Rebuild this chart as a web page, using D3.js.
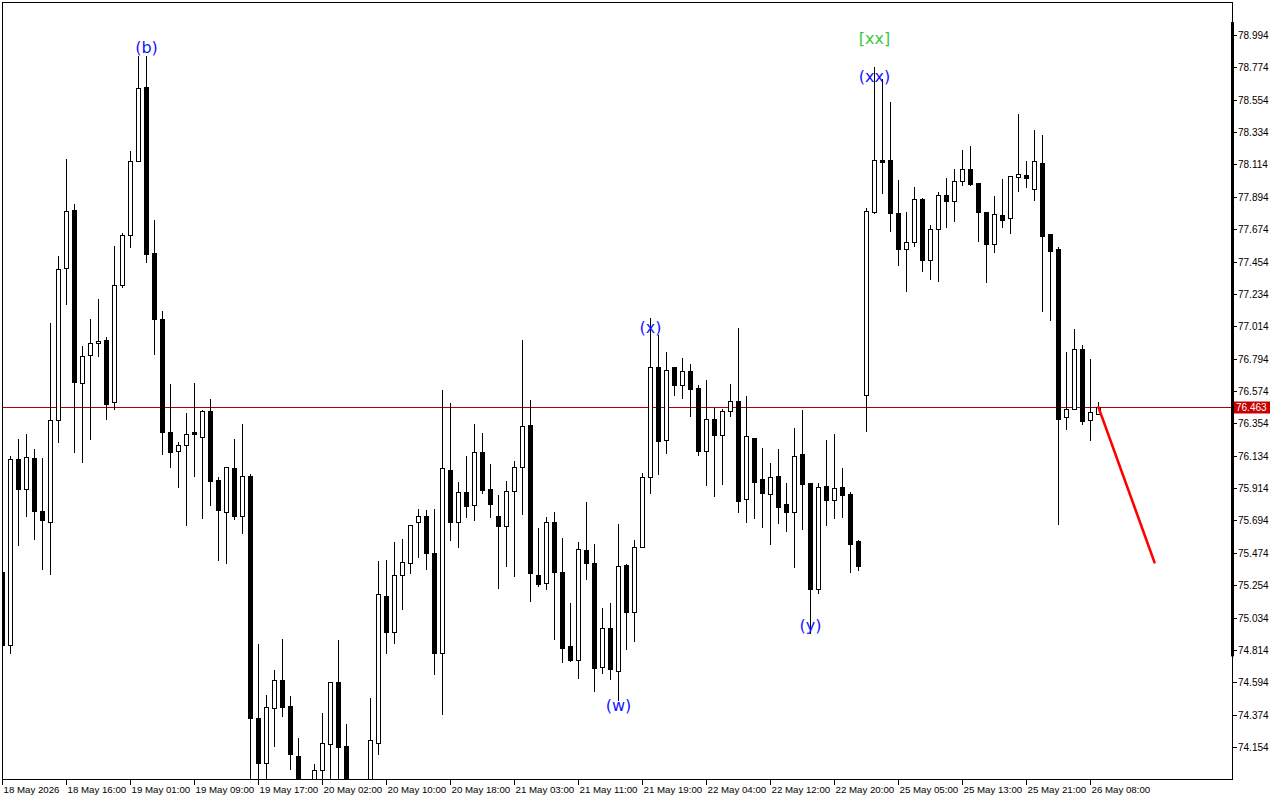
<!DOCTYPE html>
<html><head><meta charset="utf-8">
<script src="https://cdn.jsdelivr.net/npm/d3@7"></script>
<style>
body{margin:0;background:#fff}
svg{display:block}
.ax{font-family:"Liberation Sans",Arial,sans-serif;font-size:10px;fill:#000}
.tx{font-family:"Liberation Sans",Arial,sans-serif;font-size:9.7px;fill:#000}
.wave{font-family:"DejaVu Sans",sans-serif;font-size:16px}
</style>
</head><body>
<svg id="chart" width="1280" height="800"></svg>
<script>
// ---- data (hourly candles, 18 May 2026 ... 26 May 2026) ----
const timeLabels = ["18 May 2026","18 May 16:00","19 May 01:00","19 May 09:00","19 May 17:00","20 May 02:00","20 May 10:00","20 May 18:00","21 May 03:00","21 May 11:00","21 May 19:00","22 May 04:00","22 May 12:00","22 May 20:00","25 May 05:00","25 May 13:00","25 May 21:00","26 May 08:00"];
const labelEvery = 8;

const openP = [
75.344,74.847,76.112,75.908,76.119,75.758,75.684,76.377,77.410,77.805,
76.628,76.819,76.900,76.921,76.499,77.295,77.635,78.138,78.641,77.512,
77.064,76.295,76.166,76.207,76.295,76.261,76.438,75.969,75.752,76.051,
75.724,75.996,74.351,74.045,74.419,74.610,74.433,74.093,73.862,73.875,
73.998,74.174,74.596,74.161,73.848,73.794,73.862,74.181,75.181,74.936,
75.323,75.405,75.684,75.724,75.473,74.793,76.037,75.684,75.888,75.799,
76.159,75.908,75.724,75.656,75.894,76.057,76.343,75.323,75.269,75.684,
75.344,74.841,74.745,75.493,75.405,74.698,74.963,74.671,75.391,75.072,
75.514,75.989,76.737,76.241,76.737,76.615,76.710,76.595,76.166,76.384,
76.275,76.438,76.506,75.840,76.255,75.976,75.874,75.996,75.806,75.752,
76.146,75.949,75.228,75.928,75.833,75.922,75.874,75.554,76.547,77.791,
78.144,78.144,77.784,77.539,77.587,77.879,77.465,77.675,77.906,77.866,
78.002,78.083,77.988,77.791,77.573,77.771,77.750,78.029,78.042,77.947,
78.124,77.641,77.539,76.397,76.452,76.860,76.377,76.418];

const highP = [
75.350,76.132,76.248,76.282,76.180,76.119,77.036,77.492,78.151,77.845,
76.880,77.064,77.200,76.941,77.560,77.648,78.206,78.851,78.851,77.737,
77.118,76.622,76.227,76.425,76.628,76.445,76.520,75.990,76.057,76.248,
76.350,76.010,74.854,74.508,74.678,74.888,74.501,74.215,73.916,74.039,
74.385,74.596,74.881,74.310,73.896,73.909,74.487,75.418,75.425,75.548,
75.568,75.663,75.772,75.765,75.772,76.581,76.493,75.956,76.132,76.350,
76.289,76.078,75.867,75.962,76.098,76.921,76.513,75.643,75.718,75.752,
75.575,75.133,75.548,75.820,75.534,75.099,75.133,75.670,75.398,75.561,
76.017,77.070,76.955,76.839,76.737,76.798,76.758,76.615,76.649,76.459,
76.452,76.622,77.002,76.540,76.255,76.187,76.085,76.180,75.949,76.323,
76.445,75.949,75.949,76.241,76.282,76.051,75.888,75.561,77.818,78.777,
78.695,78.539,78.008,77.791,77.961,77.886,77.703,77.927,78.022,78.083,
78.212,78.240,77.988,77.791,77.900,78.015,78.036,78.457,78.138,78.348,
78.314,77.641,77.553,76.839,76.996,76.887,76.792,76.499];

const lowP = [
74.800,74.793,75.527,75.724,75.568,75.364,75.330,76.227,77.166,76.159,
76.091,76.248,76.812,76.384,76.452,77.281,77.553,78.138,77.451,76.826,
76.146,76.057,75.922,75.663,75.996,75.711,75.799,75.425,75.405,75.704,
75.609,73.862,73.896,73.916,74.161,74.365,74.005,73.807,73.760,73.828,
73.916,73.896,73.862,73.794,73.726,73.739,73.828,74.107,74.793,74.861,
75.092,75.337,75.446,75.364,74.650,74.378,75.561,75.514,75.718,75.697,
75.881,75.718,75.235,75.384,75.316,75.738,75.146,75.248,75.228,74.888,
74.732,74.739,74.623,75.296,74.535,74.657,74.616,74.474,74.820,74.875,
75.514,75.881,76.010,76.153,76.547,76.527,76.404,76.139,75.935,75.860,
75.942,76.404,75.752,75.684,75.711,75.650,75.534,75.677,75.622,75.378,
75.636,74.929,75.201,75.663,75.711,75.718,75.344,75.357,76.302,77.784,
77.920,77.662,77.431,77.254,77.560,77.390,77.335,77.322,77.689,77.730,
77.974,77.974,77.594,77.315,77.519,77.689,77.648,77.934,77.961,77.872,
77.118,77.057,75.670,76.316,76.452,76.350,76.241,76.418];

const closeP = [
74.847,76.112,75.908,76.125,75.758,75.697,76.377,77.403,77.798,76.635,
76.812,76.900,76.914,76.486,77.295,77.635,78.138,78.634,77.505,77.064,
76.295,76.159,76.207,76.282,76.282,76.438,75.962,75.765,76.057,75.724,
75.996,74.351,74.045,74.426,74.610,74.426,74.107,73.862,73.828,73.998,
74.181,74.596,74.154,73.848,73.794,73.862,74.202,75.194,74.936,75.323,
75.412,75.663,75.724,75.473,74.793,76.051,75.684,75.888,75.792,76.159,
75.901,75.806,75.656,75.894,76.057,76.336,75.337,75.262,75.684,75.344,
74.827,74.745,75.500,75.405,74.691,74.963,74.684,75.384,75.072,75.514,
75.989,76.737,76.234,76.717,76.615,76.710,76.588,76.166,76.384,76.275,
76.438,76.506,75.826,76.268,75.956,75.881,75.990,75.786,75.752,76.132,
75.942,75.228,75.922,75.833,75.915,75.867,75.534,75.384,77.798,78.144,
78.134,77.784,77.539,77.587,77.879,77.465,77.675,77.906,77.866,78.002,
78.083,77.981,77.791,77.573,77.777,77.737,78.036,78.049,78.022,78.138,
77.628,77.526,76.384,76.452,76.860,76.370,76.431,76.463];

const priceTicks = [78.994,78.774,78.554,78.334,78.114,77.894,77.674,77.454,77.234,77.014,76.794,76.574,76.354,76.134,75.914,75.694,75.474,75.254,75.034,74.814,74.594,74.374,74.154];
const currentPrice = 76.463;
const forecastIdx = [137, 144];
const forecastPrice = [76.463, 75.409];
const rangeBarPrice = [79.082, 74.77];

const waveText  = ["(b)", "[xx]", "(xx)", "(x)", "(w)", "(y)"];
const waveIdx   = [18, 109, 109, 81, 77, 101];
const wavePrice = [78.906, 78.967, 78.715, 77.009, 74.433, 74.983];
const waveColor = ["#1414ff", "#3cc83c", "#1414ff", "#1414ff", "#1414ff", "#1414ff"];

// ---- drawing ----
const svg = d3.select("#chart");
const L = 2, T = 2, R = 1232, B = 779;
const x = d3.scaleLinear().domain([0, 1]).range([2.5, 10.5]);
const y = d3.scaleLinear().domain([74.154, 78.994]).range([747, 35]);

svg.append("rect").attr("width",1280).attr("height",800).attr("fill","#fff");

const defs = svg.append("defs");
defs.append("clipPath").attr("id","plot").append("rect")
  .attr("x",L).attr("y",T).attr("width",R-L).attr("height",B-T);

const plot = svg.append("g").attr("clip-path","url(#plot)");

const candles = d3.range(openP.length).map(i => ({i, o:openP[i], h:highP[i], l:lowP[i], c:closeP[i]}));

// current price line
const cpY = Math.round(y(currentPrice)) + 0.5;
plot.append("line").attr("x1",L).attr("x2",R).attr("y1",cpY).attr("y2",cpY)
  .attr("stroke","#b40000").attr("stroke-width",1);

const g = plot.selectAll("g.candle").data(candles).join("g").attr("class","candle");
g.append("line")
  .attr("x1", d => x(d.i)).attr("x2", d => x(d.i))
  .attr("y1", d => Math.round(y(d.h))).attr("y2", d => Math.round(y(d.l)) + 1)
  .attr("stroke","#000").attr("stroke-width",1);
g.each(function(d){
  const top = Math.round(y(Math.max(d.o,d.c)));
  const bot = Math.round(y(Math.min(d.o,d.c)));
  const sel = d3.select(this);
  if (d.c > d.o) {
    sel.append("rect").attr("x", x(d.i)-2).attr("width",4)
      .attr("y", top+0.5).attr("height", Math.max(bot-top,1))
      .attr("fill","#fff").attr("stroke","#000").attr("stroke-width",1);
  } else {
    sel.append("rect").attr("x", x(d.i)-2.5).attr("width",5)
      .attr("y", top).attr("height", Math.max(bot-top+1,2))
      .attr("fill","#000");
  }
});

// forecast line
plot.append("line")
  .attr("x1", x(forecastIdx[0])).attr("y1", y(forecastPrice[0]))
  .attr("x2", x(forecastIdx[1])).attr("y2", y(forecastPrice[1]))
  .attr("stroke","#ff0000").attr("stroke-width",2.6).attr("stroke-linecap","round");

// wave labels
svg.selectAll("text.wave").data(waveText).join("text").attr("class","wave")
  .attr("x", (d,k) => x(waveIdx[k])).attr("y", (d,k) => y(wavePrice[k]))
  .attr("text-anchor","middle").attr("dominant-baseline","central")
  .attr("fill", (d,k) => waveColor[k]).text(d => d);

// frame
svg.append("rect").attr("x",L+0.5).attr("y",T+0.5).attr("width",R-L).attr("height",B-T)
  .attr("fill","none").attr("stroke","#000").attr("stroke-width",1);

// right axis range bar
svg.append("rect").attr("x", R-1).attr("width",3)
  .attr("y", y(rangeBarPrice[0])).attr("height", y(rangeBarPrice[1]) - y(rangeBarPrice[0]))
  .attr("fill","#000");

// price axis
const pa = svg.append("g");
priceTicks.forEach(p => {
  const yy = Math.round(y(p)) + 0.5;
  pa.append("line").attr("x1",R+1).attr("x2",R+5).attr("y1",yy).attr("y2",yy).attr("stroke","#000");
  pa.append("text").attr("class","ax").attr("x",R+6).attr("y",yy).attr("dominant-baseline","central")
    .text(d3.format(".3f")(p));
});
// current price tag
pa.append("rect").attr("x",R+2).attr("y",cpY-6).attr("width",36).attr("height",12).attr("fill","#c80000");
pa.append("text").attr("class","ax").attr("x",R+4).attr("y",cpY).attr("dominant-baseline","central")
  .style("fill","#fff").text(d3.format(".3f")(currentPrice));

// time axis
const ta = svg.append("g");
timeLabels.forEach((t,k) => {
  const xi = Math.round(x(k*labelEvery) - 0.5) + 0.5;
  ta.append("line").attr("x1",xi).attr("x2",xi).attr("y1",B).attr("y2",B+6).attr("stroke","#000");
  ta.append("text").attr("class","tx").attr("x",xi+1).attr("y",793).text(t);
});
</script>
</body></html>
